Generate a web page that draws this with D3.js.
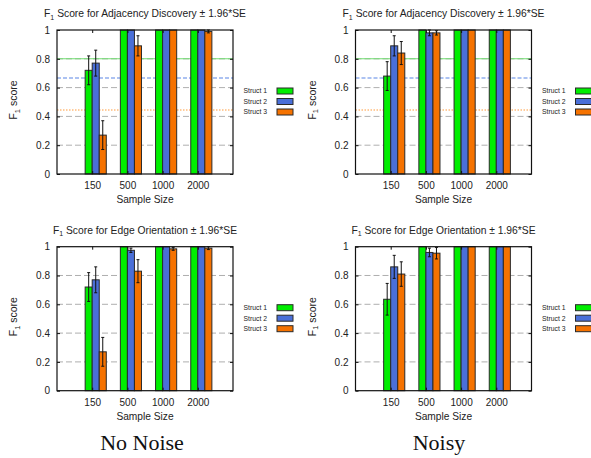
<!DOCTYPE html>
<html><head><meta charset="utf-8">
<script src="https://cdn.jsdelivr.net/npm/d3@7"></script>
<style>body{margin:0;background:#fff}svg{display:block}</style>
</head><body>
<script>
// ---- data ----
const categories = ["150", "500", "1000", "2000"];
const seriesNames = ["Struct 1", "Struct 2", "Struct 3"];
const seriesColors = ["#00ee00", "#4a6fd8", "#f57200"];
const yTicks = [0, 0.2, 0.4, 0.6, 0.8, 1];
const yTickLabels = ["0", "0.2", "0.4", "0.6", "0.8", "1"];
// values per series (rows) per sample size (cols)
const adjNoNoise    = [[0.72, 1, 1, 1], [0.77, 1, 1, 1], [0.27, 0.89, 1, 0.99]];
const adjNoNoiseErr = [[0.10, 0, 0, 0], [0.09, 0, 0, 0], [0.10, 0.07, 0, 0.01]];
const adjNoisy      = [[0.68, 1, 1, 1], [0.89, 0.98, 1, 1], [0.84, 0.98, 1, 1]];
const adjNoisyErr   = [[0.10, 0, 0, 0], [0.07, 0.02, 0, 0], [0.08, 0.015, 0, 0]];
const edgeNoNoise    = [[0.72, 1, 1, 1], [0.77, 0.975, 1, 1], [0.27, 0.83, 0.985, 0.99]];
const edgeNoNoiseErr = [[0.10, 0, 0, 0], [0.09, 0.015, 0, 0], [0.10, 0.08, 0.01, 0.01]];
const edgeNoisy      = [[0.635, 1, 1, 1], [0.86, 0.96, 1, 1], [0.81, 0.955, 1, 1]];
const edgeNoisyErr   = [[0.11, 0, 0, 0], [0.08, 0.03, 0, 0], [0.085, 0.04, 0, 0]];
// baseline reference lines (adjacency panels)
const refValues = [0.8, 2/3, 4/9];
const refColors = ["#6fdc6f", "#5a86e6", "#ff9a3a"];
const refDash = [null, "4,2", "1.5,1.5"];

const panels = [
  {ox: 0, oy: 0, title: "Score for Adjacency Discovery ± 1.96*SE", v: adjNoNoise, e: adjNoNoiseErr, ref: true},
  {ox: 298.5, oy: 0, title: "Score for Adjacency Discovery ± 1.96*SE", v: adjNoisy, e: adjNoisyErr, ref: true},
  {ox: 0, oy: 216.7, title: "Score for Edge Orientation ± 1.96*SE", v: edgeNoNoise, e: edgeNoNoiseErr, ref: false},
  {ox: 298.5, oy: 216.7, title: "Score for Edge Orientation ± 1.96*SE", v: edgeNoisy, e: edgeNoisyErr, ref: false}
];

const SANS = '"Liberation Sans",Arial,sans-serif';
const SERIF = '"Liberation Serif","Times New Roman",serif';
const W = 591, H = 458;
const svg = d3.select("body").append("svg").attr("width", W).attr("height", H)
  .style("font-family", SANS);
const PL = 57, PT = 30, PW = 176, PH = 144;

const x = d3.scaleLinear().domain([-1, 4]).range([0, PW]);
const y = d3.scaleLinear().domain([0, 1]).range([PH, 0]);
const bw = x(0.2) - x(0);

panels.forEach(p => {
  const g = svg.append("g").attr("transform", `translate(${p.ox},${p.oy})`);
  // title
  const t = g.append("text").attr("x", 145).attr("y", 17).attr("text-anchor", "middle")
    .attr("font-size", 10.3).attr("fill", "#222");
  t.append("tspan").text("F");
  t.append("tspan").attr("font-size", 7).attr("dy", 2.5).text("1");
  t.append("tspan").attr("dy", -2.5).text(" " + p.title);

  const pg = g.append("g").attr("transform", `translate(${PL},${PT})`);
  // grid
  pg.selectAll(".grid").data(yTicks.filter(d => d > 0 && d < 1)).enter().append("line")
    .attr("x1", 0).attr("x2", PW).attr("y1", d => y(d)).attr("y2", d => y(d))
    .attr("stroke", "#9a9a9a").attr("stroke-width", 0.8).attr("stroke-dasharray", "6,3");
  if (p.ref) {
    refValues.forEach((r, i) => {
      pg.append("line").attr("x1", 0).attr("x2", PW).attr("y1", y(r)).attr("y2", y(r))
        .attr("stroke", refColors[i]).attr("stroke-width", 1.1)
        .attr("stroke-dasharray", refDash[i]);
    });
  }
  // bars
  p.v.forEach((vals, s) => {
    pg.selectAll(".b" + s).data(vals).enter().append("rect")
      .attr("x", (d, i) => x(i - 0.2 + 0.2 * s))
      .attr("width", bw)
      .attr("y", d => y(d)).attr("height", d => y(0) - y(d))
      .attr("fill", seriesColors[s]).attr("stroke", "#2a2a2a").attr("stroke-width", 1);
  });
  // error bars
  p.v.forEach((vals, s) => {
    vals.forEach((d, i) => {
      const e = p.e[s][i];
      if (e <= 0) return;
      const cx = x(i - 0.1 + 0.2 * s);
      pg.append("line").attr("x1", cx).attr("x2", cx).attr("y1", y(d - e)).attr("y2", y(d + e))
        .attr("stroke", "#111").attr("stroke-width", 1);
      [d - e, d + e].forEach(v => pg.append("line").attr("x1", cx - 1.5).attr("x2", cx + 1.5)
        .attr("y1", y(v)).attr("y2", y(v)).attr("stroke", "#111").attr("stroke-width", 1));
    });
  });
  // border
  pg.append("rect").attr("x", 0).attr("y", 0).attr("width", PW).attr("height", PH)
    .attr("fill", "none").attr("stroke", "#111").attr("stroke-width", 1.2);
  // y axis (ticks inside)
  const ya = pg.append("g").call(d3.axisLeft(y).tickValues(yTicks).tickFormat((d, i) => yTickLabels[i]).tickSize(-3).tickPadding(7));
  ya.select(".domain").remove();
  ya.selectAll("text").attr("font-size", 10).attr("fill", "#222").attr("font-family", SANS);
  const yr = pg.append("g").attr("transform", `translate(${PW},0)`).call(d3.axisRight(y).tickValues(yTicks).tickSize(-3).tickFormat(""));
  yr.select(".domain").remove();
  // x axis
  const xa = pg.append("g").attr("transform", `translate(0,${PH})`)
    .call(d3.axisBottom(x).tickValues([0, 1, 2, 3]).tickFormat(i => categories[i]).tickSize(-3).tickPadding(8));
  xa.select(".domain").remove();
  xa.selectAll("text").attr("font-size", 10).attr("fill", "#222").attr("font-family", SANS);
  const xt = pg.append("g").call(d3.axisTop(x).tickValues([0, 1, 2, 3]).tickSize(-3).tickFormat(""));
  xt.select(".domain").remove();
  pg.selectAll(".tick line").attr("stroke", "#111");

  // axis labels
  g.append("text").attr("x", 145).attr("y", 203).attr("text-anchor", "middle")
    .attr("font-size", 10.2).attr("fill", "#222").text("Sample Size");
  const yl = g.append("text").attr("transform", `translate(17,${PT + 70}) rotate(-90)`)
    .attr("text-anchor", "middle").attr("font-size", 10.5).attr("fill", "#222");
  yl.append("tspan").text("F");
  yl.append("tspan").attr("font-size", 7.5).attr("dy", 2.5).text("1");
  yl.append("tspan").attr("dy", -2.5).text(" score");

  // legend
  seriesNames.forEach((n, s) => {
    const ly = PT + 61 + 10.5 * s;
    g.append("text").attr("x", 267).attr("y", ly + 2.4).attr("text-anchor", "end")
      .attr("font-size", 6.8).attr("fill", "#222").text(n);
    g.append("rect").attr("x", 277).attr("y", ly - 3).attr("width", 16).attr("height", 6)
      .attr("fill", seriesColors[s]).attr("stroke", "#2a2a2a").attr("stroke-width", 1);
  });
});

// captions
const captions = [{t: "No Noise", x: 142}, {t: "Noisy", x: 439}];
svg.selectAll(".cap").data(captions).enter().append("text")
  .attr("x", d => d.x).attr("y", 450).attr("text-anchor", "middle")
  .style("font-family", SERIF).attr("font-size", 22)
  .attr("fill", "#111").text(d => d.t);
</script>
</body></html>
